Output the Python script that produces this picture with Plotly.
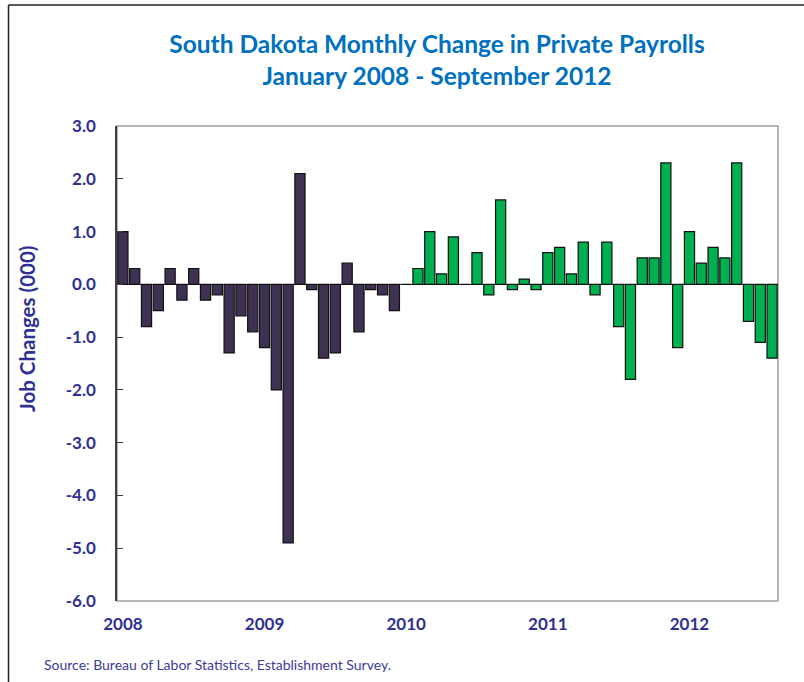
import plotly.graph_objects as go

# Monthly change in private payrolls (thousands), Jan 2008 - Aug 2012
values_2008 = [1.0, 0.3, -0.8, -0.5, 0.3, -0.3, 0.3, -0.3, -0.2, -1.3, -0.6, -0.9]
values_2009 = [-1.2, -2.0, -4.9, 2.1, -0.1, -1.4, -1.3, 0.4, -0.9, -0.1, -0.2, -0.5]
values_2010 = [0.0, 0.3, 1.0, 0.2, 0.9, 0.0, 0.6, -0.2, 1.6, -0.1, 0.1, -0.1]
values_2011 = [0.6, 0.7, 0.2, 0.8, -0.2, 0.8, -0.8, -1.8, 0.5, 0.5, 2.3, -1.2]
values_2012 = [1.0, 0.4, 0.7, 0.5, 2.3, -0.7, -1.1, -1.4]

year_labels = ["2008", "2009", "2010", "2011", "2012"]
y_tick_values = [3, 2, 1, 0, -1, -2, -3, -4, -5, -6]
y_tick_labels = ["3.0", "2.0", "1.0", "0.0", "-1.0", "-2.0", "-3.0", "-4.0", "-5.0", "-6.0"]

early = values_2008 + values_2009
late = values_2010 + values_2011 + values_2012
x_early = list(range(len(early)))
x_late = list(range(len(early), len(early) + len(late)))
n = len(early) + len(late)

label_col = "#2E3192"

fig = go.Figure()
fig.add_trace(go.Bar(x=x_early, y=early, marker=dict(color="#3F3151", line=dict(color="#111111", width=1.2))))
fig.add_trace(go.Bar(x=x_late, y=late, marker=dict(color="#00B050", line=dict(color="#111111", width=1.2))))

fig.update_layout(
    width=804, height=682,
    margin=dict(l=117, r=26, t=126, b=81),
    paper_bgcolor="white", plot_bgcolor="white",
    showlegend=False, bargap=0.14,
    font=dict(family="Lato", color=label_col),
    title=dict(
        text="<b>South Dakota Monthly Change in Private Payrolls<br>January 2008 - September 2012</b>",
        x=437 / 804, xanchor="center", xref="container",
        y=1 - 53 / 682, yanchor="middle", yref="container",
        font=dict(family="Lato", size=24.5, color="#0070C0"),
    ),
    xaxis=dict(
        range=[-0.5, n - 0.5],
        tickvals=[0, 12, 24, 36, 48], ticktext=year_labels,
        showgrid=False, zeroline=False, showline=False, ticks="",
        tickfont=dict(family="Lato", size=17, color=label_col, weight="bold"),
        ticklabelstandoff=11,
    ),
    yaxis=dict(
        range=[-6, 3], tickvals=y_tick_values, ticktext=y_tick_labels,
        showgrid=False, zeroline=True, zerolinecolor="#333333", zerolinewidth=1,
        showline=True, linecolor="#404040", linewidth=1.5,
        ticks="inside", ticklen=6, tickcolor="#404040",
        tickfont=dict(family="Lato", size=17, color=label_col, weight="bold"),
        ticklabelstandoff=16,
    ),
    shapes=[
        dict(type="rect", xref="paper", yref="paper", x0=0, x1=1, y0=0, y1=1,
             line=dict(color="#A0A0A0", width=1.5), layer="below"),
        dict(type="line", xref="paper", yref="paper",
             x0=-108.5 / 661, x1=-108.5 / 661, y0=-81 / 475, y1=1 + 121 / 475,
             line=dict(color="#222222", width=1.5)),
        dict(type="line", xref="paper", yref="paper",
             x0=-108.5 / 661, x1=1 + 30 / 661, y0=1 + 121 / 475, y1=1 + 121 / 475,
             line=dict(color="#222222", width=1.5)),
    ],
    annotations=[
        dict(text="<b>Job Changes (000)</b>", xref="paper", yref="paper",
             x=-90 / 661, y=(601 - 329) / 475, textangle=-90, showarrow=False,
             xanchor="center", yanchor="middle",
             font=dict(family="Lato", size=20.5, color=label_col)),
        dict(text="Source: Bureau of Labor Statistics, Establishment Survey.",
             xref="paper", yref="paper", x=-75 / 661, y=-(664 - 601) / 475,
             xanchor="left", yanchor="middle", showarrow=False,
             font=dict(family="Lato", size=14, color="#3B3B9A")),
    ],
)

fig.write_html("out.html", config={"displayModeBar": False},
               post_script="document.body.style.margin='0';")
